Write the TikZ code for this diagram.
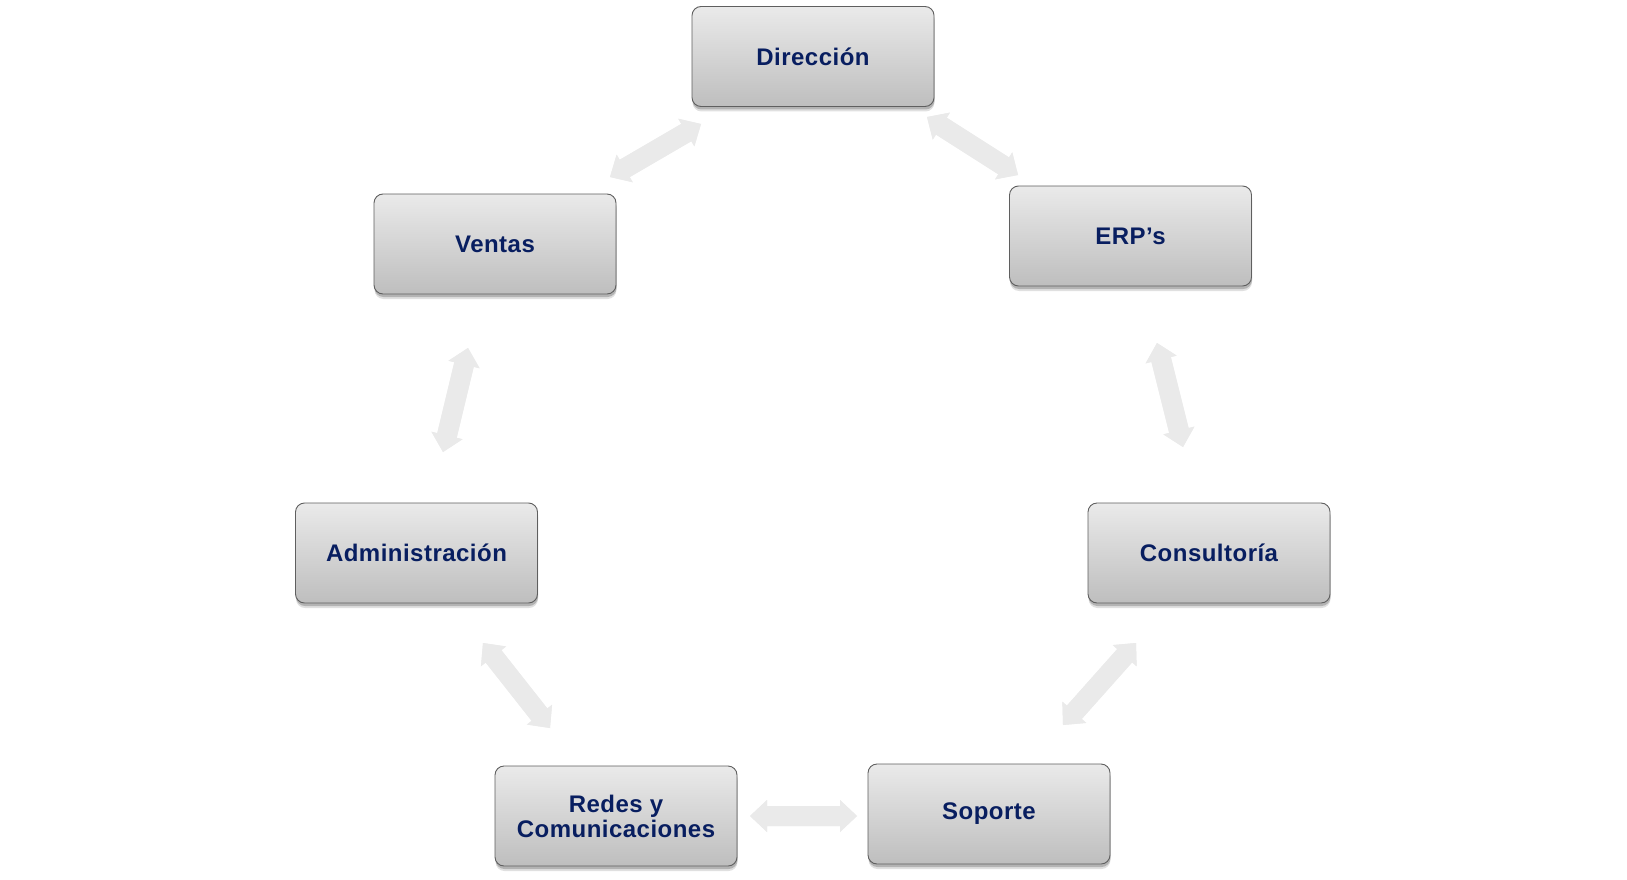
\documentclass[tikz,border=0pt]{standalone}
\usepackage{fontspec}
\setmainfont{Liberation Sans}
\newfontfamily\boxfont[LetterSpace=2.0]{Liberation Sans}
\usetikzlibrary{calc,shadows}
\definecolor{txtnavy}{RGB}{8,30,96}
\definecolor{boxtop}{RGB}{234,234,234}
\definecolor{boxbot}{RGB}{190,190,190}
\definecolor{boxline}{RGB}{95,95,95}
\definecolor{arrfill}{RGB}{234,234,234}
\tikzset{
  deptbox/.style={rectangle, rounded corners=9pt, draw=boxline, line width=0.9pt,
    top color=boxtop, bottom color=boxbot, minimum width=242pt, minimum height=100pt,
    inner sep=0pt, align=center, text=txtnavy,
    font=\boxfont\fontsize{24}{25}\selectfont\bfseries,
    drop shadow={shadow xshift=0.5pt, shadow yshift=-5pt, opacity=0.12, fill=black},
    drop shadow={shadow xshift=0.5pt, shadow yshift=-3pt, opacity=0.2, fill=black}},
  arrbody/.style={fill=arrfill, draw=none},
  arrshadow/.style={fill=black, opacity=0.07, draw=none}
}
\newcommand{\dblarrowpath}[2]{%
  (#1) -- ($(#1)!17pt!(#2)!16pt!90:(#2)$) -- ($(#1)!17pt!(#2)!10pt!90:(#2)$)
  -- ($(#2)!17pt!(#1)!10pt!-90:(#1)$) -- ($(#2)!17pt!(#1)!16pt!-90:(#1)$)
  -- (#2) -- ($(#2)!17pt!(#1)!16pt!90:(#1)$) -- ($(#2)!17pt!(#1)!10pt!90:(#1)$)
  -- ($(#1)!17pt!(#2)!10pt!-90:(#2)$) -- ($(#1)!17pt!(#2)!16pt!-90:(#2)$) -- cycle}
\newcommand{\dblarrow}[2]{%
  \fill[arrshadow, xshift=1.5pt, yshift=-2.5pt] \dblarrowpath{#1}{#2};
  \fill[arrbody] \dblarrowpath{#1}{#2};}
\begin{document}
\begin{tikzpicture}[x=1pt, y=-1pt]
\useasboundingbox (0,0) rectangle (1627,880);
\fill[white] (0,0) rectangle (1627,880);
% boxes
\node[deptbox] (dir) at (813,56.5) {Dirección};
\node[deptbox] (ven) at (495,244) {Ventas};
\node[deptbox] (erp) at (1130.5,236) {ERP’s};
\node[deptbox] (adm) at (416.5,553) {Administración};
\node[deptbox] (con) at (1209,553) {Consultoría};
\node[deptbox] (red) at (616,816) {Redes y\\Comunicaciones};
\node[deptbox] (sop) at (989,814) {Soporte};
% arrow end points
\coordinate (dvA) at (701,124);
\coordinate (dvB) at (610,177);
\coordinate (deA) at (927,117);
\coordinate (deB) at (1018,175);
\coordinate (ecA) at (1157,343);
\coordinate (ecB) at (1183,447);
\coordinate (vaA) at (468,348);
\coordinate (vaB) at (443,452);
\coordinate (arA) at (483,643);
\coordinate (arB) at (550,728);
\coordinate (csA) at (1136,643);
\coordinate (csB) at (1063,725);
\coordinate (rsA) at (750,816);
\coordinate (rsB) at (857,816);
% arrows
\dblarrow{dvA}{dvB}
\dblarrow{deA}{deB}
\dblarrow{ecA}{ecB}
\dblarrow{vaA}{vaB}
\dblarrow{arA}{arB}
\dblarrow{csA}{csB}
\dblarrow{rsA}{rsB}
\end{tikzpicture}
\end{document}
